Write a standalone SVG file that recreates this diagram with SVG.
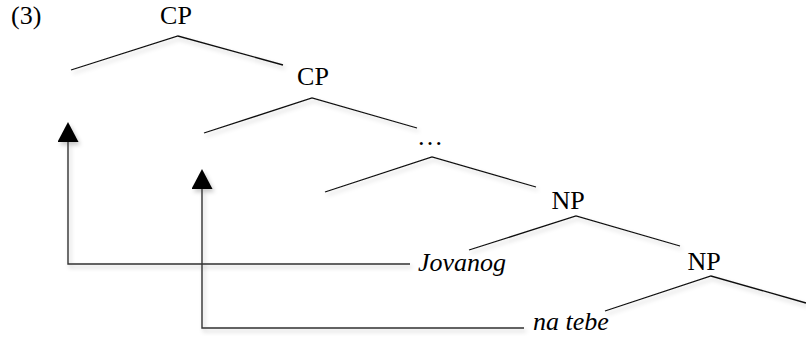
<svg xmlns="http://www.w3.org/2000/svg" width="806" height="337" viewBox="0 0 806 337">
  <style>
    .lbl { font-family: "Liberation Serif", "Times New Roman", serif; font-size: 26px; fill: #000; }
    .it { font-style: italic; }
    .branch { stroke: #111; stroke-width: 1.3; fill: none; }
    .move { stroke: #333; stroke-width: 1.4; fill: none; }
  </style>
  <defs>
    <filter id="soft" x="-10%" y="-50%" width="130%" height="250%">
      <feDropShadow dx="2" dy="3" stdDeviation="2" flood-color="#000" flood-opacity="0.22"/>
    </filter>
    <!-- filled triangle head; drawn pointing along +x so orient="auto" turns it with the line -->
    <marker id="tri" viewBox="0 0 20 21" refX="0" refY="10.5" markerWidth="20" markerHeight="21" markerUnits="userSpaceOnUse" orient="auto">
      <path d="M0 0 L20 10.5 L0 21 Z" fill="#000"/>
    </marker>
  </defs>

  <text class="lbl" x="11" y="24">(3)</text>

  <g id="cp1">
    <text class="lbl" x="176" y="24" text-anchor="middle">CP</text>
    <path class="branch" filter="url(#soft)" d="M71 70 L178 36 L283 65"/>
  </g>
  <g id="cp2">
    <text class="lbl" x="313" y="85" text-anchor="middle">CP</text>
    <path class="branch" filter="url(#soft)" d="M204 133 L312 98 L417 128"/>
  </g>
  <g id="dots">
    <text class="lbl" x="430" y="145" text-anchor="middle">…</text>
    <path class="branch" filter="url(#soft)" d="M325 192 L432 157 L536 187"/>
  </g>
  <g id="np1">
    <text class="lbl" x="568" y="209" text-anchor="middle">NP</text>
    <path class="branch" filter="url(#soft)" d="M469 250 L576 216 L680 246"/>
  </g>
  <g id="jovanog">
    <text class="lbl it" x="418" y="271">Jovanog</text>
  </g>
  <g id="np2">
    <text class="lbl" x="704" y="270" text-anchor="middle">NP</text>
    <path class="branch" filter="url(#soft)" d="M605 311 L711 276 L806 303"/>
  </g>
  <g id="natebe">
    <text class="lbl it" x="533" y="330">na tebe</text>
  </g>

  <g id="connectors">
    <path class="move" filter="url(#soft)" d="M410 264 L68 264 L68 142" marker-end="url(#tri)"/>
    <path class="move" filter="url(#soft)" d="M524 328 L202 328 L202 189" marker-end="url(#tri)"/>
  </g>
</svg>
